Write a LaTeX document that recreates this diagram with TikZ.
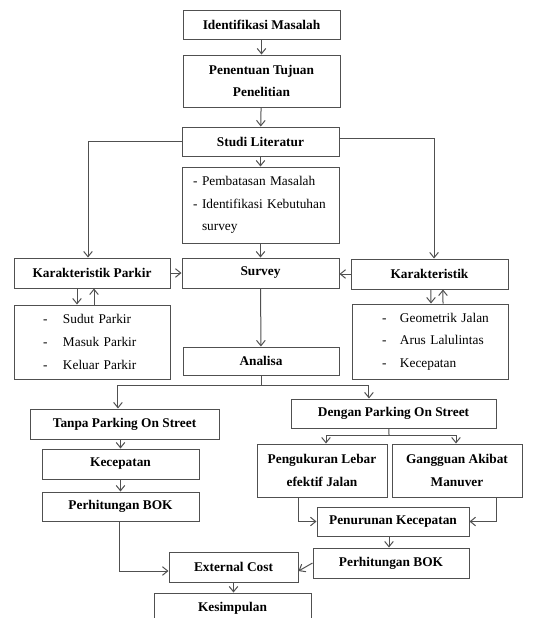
\documentclass[tikz,border=0pt]{standalone}
\usepackage{fontspec}
\setmainfont{Liberation Serif}
\usetikzlibrary{arrows.meta}

\definecolor{linegray}{RGB}{80,80,80}
\newcommand{\litem}[3]{\hspace*{#1}\makebox[#2][l]{-}#3}

\tikzset{every picture/.style={line width=0.75pt}}
\tikzset{
  box/.style={draw=linegray, fill=white, align=center, inner sep=1pt,
    font=\bfseries\fontsize{10}{17}\selectfont},
  listbox/.style={draw=linegray, fill=white, align=left, inner xsep=0pt, inner ysep=1pt,
    font=\fontsize{10}{17}\selectfont},
  arr/.style={draw=linegray, -{Straight Barb[length=4pt,width=6.5pt]}},
  ln/.style={draw=linegray},
}

\begin{document}
\begin{tikzpicture}[x=0.75pt,y=0.75pt,yscale=-1,xscale=1]
		\useasboundingbox (0,0) rectangle (559,618);
		
		% Upper column
		\node[box, minimum width=117.75pt, minimum height=21.75pt] (idm) at (261.5,24.5) {Identifikasi Masalah};
		\node[box, minimum width=117.75pt, minimum height=39pt] (ptp) at (261.5,81) {Penentuan Tujuan\\Penelitian};
		\node[box, minimum width=117.75pt, minimum height=21.75pt] (stl) at (260.5,141.5) {Studi Literatur};
		\node[listbox, text width=117.75pt, minimum height=57pt] (pbm) at (260.5,205)
		  {\litem{8.25pt}{6.75pt}{Pembatasan Masalah}\\
		   \litem{8.25pt}{6.75pt}{Identifikasi Kebutuhan}\\
		   \hspace*{15pt}survey};
		
		% Survey row
		\node[box, minimum width=117pt, minimum height=22.5pt] (kpk) at (92,273) {Karakteristik Parkir};
		\node[box, minimum width=117.75pt, minimum height=22.5pt] (srv) at (260.5,273) {Survey};
		\node[box, minimum width=117.75pt, minimum height=22.5pt] (krk) at (429.5,274) {Karakteristik};
		\node[listbox, text width=117pt, minimum height=55.5pt] (skp) at (92,342)
		  {\litem{21.75pt}{15pt}{Sudut Parkir}\\
		   \litem{21.75pt}{15pt}{Masuk Parkir}\\
		   \litem{21.75pt}{15pt}{Keluar Parkir}};
		\node[listbox, text width=117pt, minimum height=56.25pt] (skj) at (430,341.5)
		  {\litem{22.5pt}{13.5pt}{Geometrik Jalan}\\
		   \litem{22.5pt}{13.5pt}{Arus Lalulintas}\\
		   \litem{22.5pt}{13.5pt}{Kecepatan}};
		\node[box, minimum width=117pt, minimum height=21pt] (ans) at (261,361) {Analisa};
		
		% Left branch
		\node[box, minimum width=141.75pt, minimum height=22.5pt] (tps) at (124.5,424) {Tanpa Parking On Street};
		\node[box, minimum width=117.75pt, minimum height=22.5pt] (kcp) at (120.5,464) {Kecepatan};
		\node[box, minimum width=117.75pt, minimum height=21.75pt] (pbk1) at (120.5,506.5) {Perhitungan BOK};
		
		% Right branch
		\node[box, minimum width=153.75pt, minimum height=21.75pt] (dps) at (393.5,413.5) {Dengan Parking On Street};
		\node[box, minimum width=97.5pt, minimum height=39.75pt] (plj) at (322,470.5) {Pengukuran Lebar\\efektif Jalan};
		\node[box, minimum width=97.5pt, minimum height=39.75pt] (gam) at (457,470.5) {Gangguan Akibat\\Manuver};
		\node[box, minimum width=114pt, minimum height=21.75pt] (pkc) at (393,521.5) {Penurunan Kecepatan};
		\node[box, minimum width=117pt, minimum height=22.5pt] (pbk2) at (391,563) {Perhitungan BOK};
		
		% Bottom
		\node[box, minimum width=96.75pt, minimum height=22.5pt] (ext) at (233.5,567) {External Cost};
		\node[box, minimum width=117.75pt, minimum height=22.5pt] (ksp) at (232.5,608) {Kesimpulan};
		
		\coordinate (split) at (261,385);
		\coordinate (dsplit) at (389,435);
		
		% Connectors
		\draw[arr] (idm) -- (ptp);
		\draw[arr] (ptp) -- (stl);
		\draw[arr] (stl) -- (pbm);
		\draw[arr] (stl.west) -| ([xshift=-3pt]kpk.north);
		\draw[arr] ([yshift=-2.6pt]stl.east) -| ([xshift=3.4pt]krk.north);
		\draw[arr] (pbm) -- (srv);
		\draw[arr] (kpk) -- (srv);
		\draw[arr] (krk.west) -- (srv.east |- krk.west);
		\draw[arr] ([xshift=-11.25pt]kpk.south) -- ([xshift=-11.25pt]skp.north);
		\draw[arr] ([xshift=1.5pt]skp.north) -- ([xshift=1.5pt]kpk.south);
		\draw[arr] ([xshift=1.1pt]krk.south) -- ([xshift=0.75pt]skj.north);
		\draw[arr] ([xshift=9.75pt]skj.north) -- ([xshift=10.1pt]krk.south);
		\draw[arr] (srv) -- (ans);
		\draw[ln] (ans.south) -- (split);
		\draw[arr] (split) -| ([xshift=-4.9pt]tps.north);
		\draw[arr] (split) -| ([xshift=-18.4pt]dps.north);
		\draw[arr] (tps.south -| kcp.north) -- (kcp.north);
		\draw[arr] (kcp) -- (pbk1);
		\draw[arr] ([xshift=-0.9pt]pbk1.south) |- ([yshift=3pt]ext.west);
		\draw[ln] ([xshift=-3.4pt]dps.south) -- (dsplit);
		\draw[arr] (dsplit) -| ([xshift=3pt]plj.north);
		\draw[arr] (dsplit) -| ([xshift=-0.75pt]gam.north);
		\draw[arr] ([xshift=-18pt]plj.south) |- (pkc.west);
		\draw[arr] ([xshift=29.25pt]gam.south) |- (pkc.east);
		\draw[arr] ([xshift=-3pt]pkc.south) -- ([xshift=-1.5pt]pbk2.north);
		\draw[arr] (pbk2.west) -- ([yshift=3pt]ext.east);
		\draw[arr] (ext.south) -- (ext.south |- ksp.north);
		
	\end{tikzpicture}
\end{document}
